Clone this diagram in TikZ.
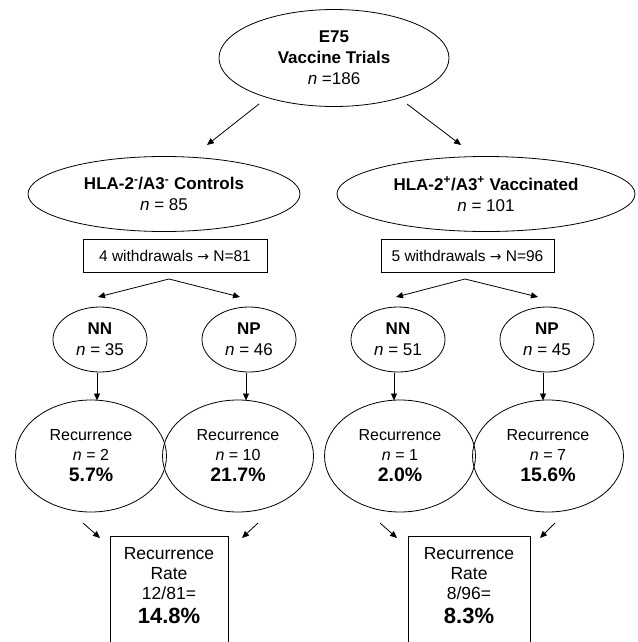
\documentclass[tikz,border=0pt]{standalone}
\usepackage{fontspec}
\setmainfont{Liberation Sans}
\newfontfamily\arrowfont{DejaVu Sans}
\usetikzlibrary{arrows.meta,shapes.geometric}
\begin{document}
\begin{tikzpicture}[x=1pt,y=-1pt,
  ell/.style={draw, ellipse, line width=0.8pt, inner sep=0pt, align=center,
    font=\fontsize{17}{21}\selectfont},
  recell/.style={draw, ellipse, line width=0.8pt, inner sep=0pt, align=center,
    minimum width=151pt, minimum height=112pt, font=\fontsize{16}{20}\selectfont},
  smallell/.style={draw, ellipse, line width=0.8pt, inner sep=0pt, align=center,
    minimum width=94pt, minimum height=65pt, font=\fontsize{17}{21}\selectfont},
  wbox/.style={draw, rectangle, line width=0.8pt, minimum height=33pt, inner sep=0pt,
    font=\fontsize{15.5}{19}\selectfont},
  ratebox/.style={draw, rectangle, line width=0.8pt, minimum height=130pt, anchor=north},
  ratetext/.style={align=center, inner sep=0pt, font=\fontsize{17.5}{20}\selectfont},
  arr/.style={-{Triangle[length=7pt,width=6pt]}, line width=0.8pt}]
\clip (0,0) rectangle (637,642);

% top
\node[ell, minimum width=230pt, minimum height=97pt] (top) at (334,58)
  {\textbf{E75}\\ \textbf{Vaccine Trials}\\ \textit{n} =186};

% second level
\node[ell, minimum width=272pt, minimum height=75pt] (ctl) at (164,194)
  {\textbf{HLA-2\textsuperscript{-}/A3\textsuperscript{-} Controls}\\ \textit{n} = 85};
\node[ell, minimum width=298pt, minimum height=75pt] (vac) at (486,194)
  {\textbf{HLA-2\textsuperscript{+}/A3\textsuperscript{+} Vaccinated}\\ \textit{n} = 101};

% withdrawals
\node[wbox, minimum width=184pt] (w1) at (175,255.5) {4 withdrawals {\arrowfont\fontsize{14}{19}\selectfont →} N=81};
\node[wbox, minimum width=173pt] (w2) at (467.5,255.5) {5 withdrawals {\arrowfont\fontsize{14}{19}\selectfont →} N=96};

% NN / NP
\node[smallell] (nn1) at (100,339.5) {\textbf{NN}\\ \textit{n} = 35};
\node[smallell] (np1) at (249,339.5) {\textbf{NP}\\ \textit{n} = 46};
\node[smallell] (nn2) at (398,339.5) {\textbf{NN}\\ \textit{n} = 51};
\node[smallell] (np2) at (547,339.5) {\textbf{NP}\\ \textit{n} = 45};

% recurrence ellipses
\node[recell] (r1) at (91,456) {Recurrence\\ \textit{n} = 2\\[1pt] {\fontsize{19.5}{22}\selectfont\bfseries 5.7\%}};
\node[recell] (r2) at (238,456) {Recurrence\\ \textit{n} = 10\\[1pt] {\fontsize{19.5}{22}\selectfont\bfseries 21.7\%}};
\node[recell] (r3) at (400,456) {Recurrence\\ \textit{n} = 1\\[1pt] {\fontsize{19.5}{22}\selectfont\bfseries 2.0\%}};
\node[recell] (r4) at (548,456) {Recurrence\\ \textit{n} = 7\\[1pt] {\fontsize{19.5}{22}\selectfont\bfseries 15.6\%}};

% rate boxes
\node[ratebox, minimum width=118pt] (b1) at (169,536) {};
\node[ratebox, minimum width=122pt] (b2) at (469,536) {};
\node[ratetext] (b1t) at (169,586) {Recurrence\\ Rate\\ 12/81=\\[4pt] {\fontsize{22}{26}\selectfont\bfseries 14.8\%}};
\node[ratetext] (b2t) at (469,586) {Recurrence\\ Rate\\ 8/96=\\[4pt] {\fontsize{22}{26}\selectfont\bfseries 8.3\%}};

% arrow coordinates
\coordinate (t1s) at (259,104); \coordinate (t1e) at (207,145);
\coordinate (t2s) at (407,104); \coordinate (t2e) at (461,145);
\coordinate (a1) at (169,279); \coordinate (a1l) at (98,297); \coordinate (a1r) at (240,297);
\coordinate (a2) at (465,279); \coordinate (a2l) at (396,297); \coordinate (a2r) at (538,297);
\coordinate (c1s) at (83,523);  \coordinate (c1e) at (100,538);
\coordinate (c2s) at (258,523); \coordinate (c2e) at (242,538);
\coordinate (c3s) at (380,523); \coordinate (c3e) at (397,538);
\coordinate (c4s) at (555,523); \coordinate (c4e) at (540,538);

\draw[arr] (t1s) -- (t1e);
\draw[arr] (t2s) -- (t2e);
\draw[arr] (a1) -- (a1l);
\draw[arr] (a1) -- (a1r);
\draw[arr] (a2) -- (a2l);
\draw[arr] (a2) -- (a2r);

\draw[arr] (97,373) -- (97,400.5);
\draw[arr] (246,373) -- (246,400.5);
\draw[arr] (394,373) -- (394,400.5);
\draw[arr] (543,373) -- (543,400.5);

\draw[arr] (c1s) -- (c1e);
\draw[arr] (c2s) -- (c2e);
\draw[arr] (c3s) -- (c3e);
\draw[arr] (c4s) -- (c4e);
\end{tikzpicture}
\end{document}
